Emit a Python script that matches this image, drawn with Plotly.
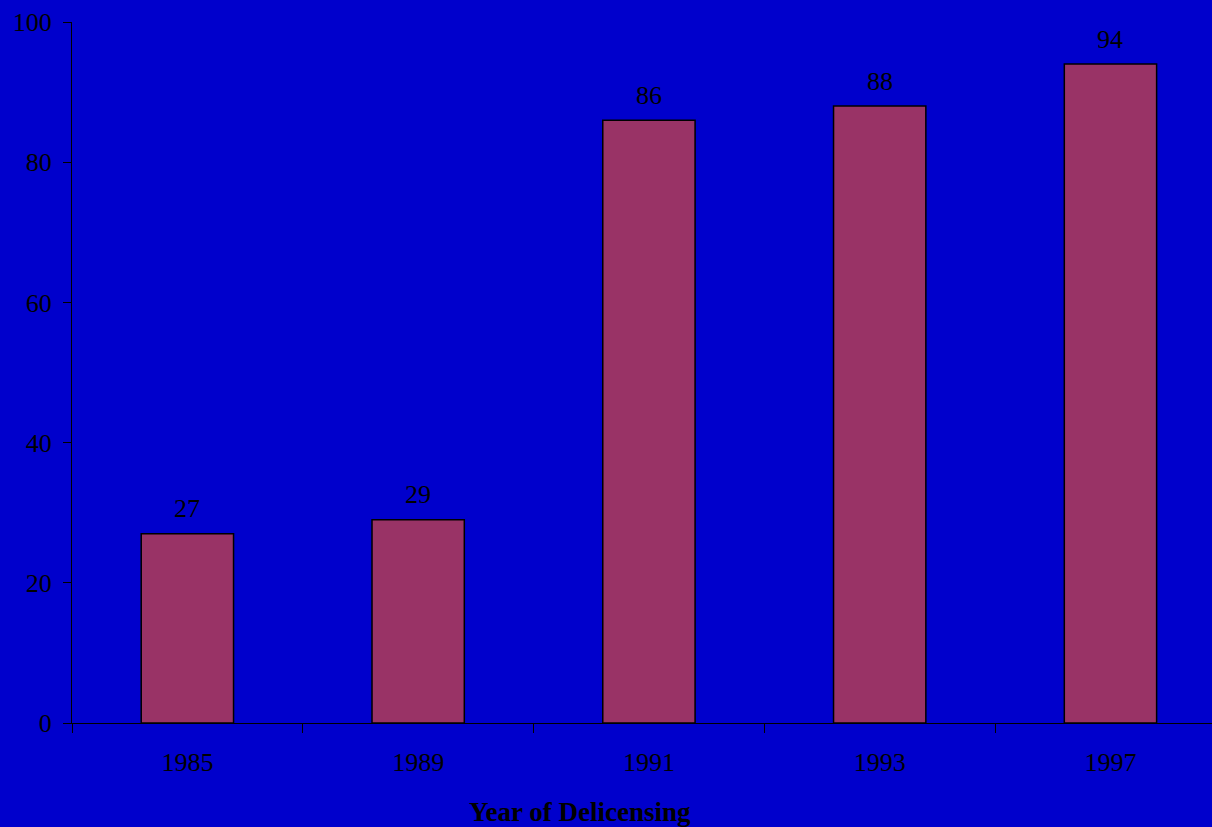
import plotly.graph_objects as go

# Share of industries delicensed, by year
years = ["1985", "1989", "1991", "1993", "1997"]
values = [27, 29, 86, 88, 94]
y_ticks = [0, 20, 40, 60, 80, 100]

BG = "#0000CC"
BAR = "#993366"
FONT = "Liberation Serif, Times New Roman, serif"

fig = go.Figure(
    go.Bar(
        x=years,
        y=values,
        width=0.4,
        marker=dict(color=BAR, line=dict(color="black", width=1.5)),
        hoverinfo="x+y",
    )
)

# value labels above each bar (category axis -> position by index)
for i, v in enumerate(values):
    fig.add_annotation(
        x=i,
        y=v,
        xref="x",
        yref="y",
        text=str(v),
        showarrow=False,
        yanchor="middle",
        yshift=25,
        font=dict(family=FONT, size=26, color="black"),
    )

fig.update_layout(
    width=1212,
    height=827,
    margin=dict(l=72, r=0, t=22, b=104),
    paper_bgcolor=BG,
    plot_bgcolor=BG,
    showlegend=False,
    font=dict(family=FONT, size=26, color="black"),
)

fig.update_xaxes(
    type="category",
    range=[-0.5, 4.44],
    showgrid=False,
    showline=True,
    linecolor="black",
    linewidth=1,
    ticks="outside",
    tickson="boundaries",
    ticklen=9,
    tickcolor="black",
    tickfont=dict(family=FONT, size=26, color="black"),
    ticklabelstandoff=16,
    zeroline=False,
)

fig.update_yaxes(
    range=[0, 100],
    tickvals=y_ticks,
    showgrid=False,
    showline=True,
    linecolor="black",
    linewidth=1,
    ticks="outside",
    ticklen=8,
    tickcolor="black",
    tickfont=dict(family=FONT, size=26, color="black"),
    ticklabelstandoff=6,
    zeroline=False,
)

fig.add_annotation(
    text="<b>Year of Delicensing</b>",
    xref="paper",
    yref="paper",
    x=0.4456,
    y=-0.127,
    xanchor="center",
    yanchor="middle",
    showarrow=False,
    font=dict(family=FONT, size=27, color="black"),
)

fig.write_html("out.html")
